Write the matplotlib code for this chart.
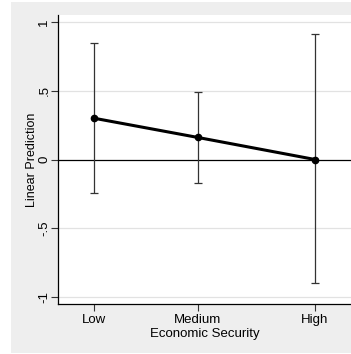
import matplotlib.pyplot as plt
from matplotlib.patches import Rectangle

plt.rcParams['font.family'] = ['Liberation Sans', 'DejaVu Sans']

# data
categories = ['Low', 'Medium', 'High']
xpos = [0, 1, 2.125]
prediction = [0.30, 0.16, 0.00]
ci_low = [-0.24, -0.17, -0.90]
ci_high = [0.85, 0.49, 0.91]
yticks = [-1, -0.5, 0, 0.5, 1]
ytick_labels = ['-1', '-.5', '0', '.5', '1']

fig = plt.figure(figsize=(3.51, 3.54), dpi=100)
fig.patch.set_facecolor('white')
# grey graph region (white border on the left, top and bottom)
fig.patches.append(Rectangle((11 / 351, 1 / 354), 1 - 11 / 351, 351 / 354,
                             transform=fig.transFigure, facecolor='#eeeeee',
                             edgecolor='none', zorder=-5))

ax = fig.add_axes([58 / 351, 50 / 354, 1 - 58 / 351, 289 / 354])
ax.set_facecolor('white')

for y in [-1, -0.5, 0.5, 1]:
    ax.axhline(y, color='#e2e2e2', lw=0.9, zorder=1)
ax.axhline(0, color='black', lw=0.9, zorder=2)

yerr = [[p - lo for p, lo in zip(prediction, ci_low)],
        [hi - p for p, hi in zip(prediction, ci_high)]]
ax.errorbar(xpos, prediction, yerr=yerr, fmt='none', ecolor='#333333',
            elinewidth=0.9, capsize=3, capthick=0.9, zorder=3)
ax.plot(xpos, prediction, color='black', lw=2.2, marker='o', markersize=4.5, zorder=4)

ax.set_xlim(-0.346, 2.471)
ax.set_ylim(-1.05, 1.05)
ax.set_xticks(xpos)
ax.set_xticklabels(categories, fontsize=9.5)
ax.set_yticks(yticks)
ax.set_yticklabels(ytick_labels, fontsize=9.5, rotation=90, va='center')
ax.tick_params(axis='both', length=5, width=0.8, color='#333333')
ax.tick_params(axis='x', pad=2)
ax.tick_params(axis='y', pad=0.5)

for side in ['top', 'right']:
    ax.spines[side].set_visible(False)
for side in ['left', 'bottom']:
    ax.spines[side].set_linewidth(0.9)

ax.set_xlabel('Economic Security', fontsize=9.5, labelpad=2)
ax.set_ylabel('Linear Prediction', fontsize=9, labelpad=0)

fig.savefig('out.png', dpi=100)
